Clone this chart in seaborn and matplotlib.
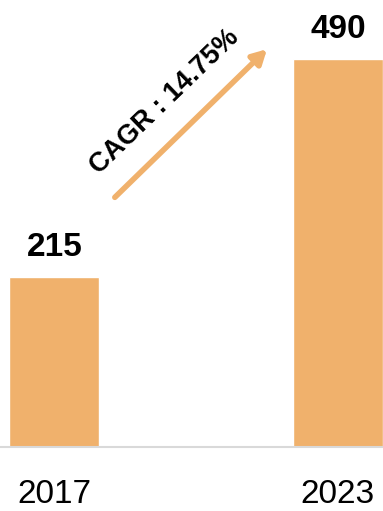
import matplotlib
matplotlib.use("Agg")
import matplotlib.pyplot as plt
import seaborn as sns
import pandas as pd

# Market size by year
years = ["2017", "2023"]
values = [215, 490]
cagr_label = "CAGR : 14.75%"

bar_color = "#F0B16C"

sns.set_theme(style="white")
plt.rcParams["font.family"] = ["Liberation Sans", "DejaVu Sans"]

df = pd.DataFrame({"year": years, "value": values})

fig = plt.figure(figsize=(3.83, 5.11), dpi=100)
ax = fig.add_axes([0, 0.1252, 1, 0.8748])

sns.barplot(data=df, x="year", y="value", color=bar_color, width=0.317,
            saturation=1, ax=ax)

ax.set_xlim(-0.192, 1.159)
ax.set_ylim(0, 564)

for c in ax.containers:
    ax.bar_label(c, labels=[str(v) for v in values], padding=10,
                 fontsize=24, fontweight="bold", color="black")

# Growth arrow with the CAGR note
ax.annotate("", xy=(0.75, 502), xytext=(0.213, 315),
            arrowprops=dict(arrowstyle="-|>,head_length=0.7,head_width=0.38",
                            color=bar_color, lw=4, shrinkA=0, shrinkB=0))
ax.text(0.39, 436, cagr_label, rotation=44, rotation_mode="anchor",
        ha="center", va="center", fontsize=19.5, fontweight="bold", color="black")

ax.set_xlabel("")
ax.set_ylabel("")
ax.set_yticks([])
ax.tick_params(axis="x", length=0, pad=23, labelsize=24, labelcolor="black")
for s in ["top", "left", "right"]:
    ax.spines[s].set_visible(False)
ax.spines["bottom"].set_color("#D9D9D9")
ax.spines["bottom"].set_linewidth(1.5)

fig.savefig("out.png", dpi=100)
